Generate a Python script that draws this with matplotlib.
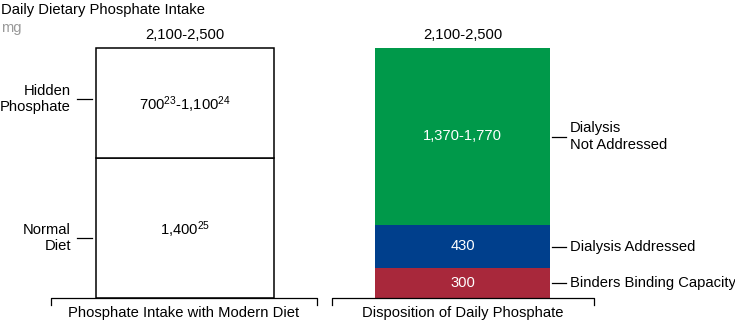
import matplotlib.pyplot as plt

plt.rcParams['font.family'] = ['Liberation Sans', 'DejaVu Sans']
plt.rcParams['mathtext.fontset'] = 'custom'
plt.rcParams['mathtext.rm'] = 'Liberation Sans'
plt.rcParams['mathtext.it'] = 'Liberation Sans'

# data (mg), upper bounds used for bar heights
intake_names = ['Normal\nDiet', 'Hidden\nPhosphate']
intake_vals = [1400, 1100]
intake_text = [r'1,400$^{25}$', r'700$^{23}$-1,100$^{24}$']

dispo_names = ['Binders Binding Capacity', 'Dialysis Addressed', 'Dialysis\nNot Addressed']
dispo_vals = [300, 430, 1770]
dispo_text = ['300', '430', '1,370-1,770']
dispo_colors = ['#a8283b', '#003f8c', '#00994a']

total_text = '2,100-2,500'
groups = ['Phosphate Intake with Modern Diet', 'Disposition of Daily Phosphate']

fig = plt.figure(figsize=(7.35, 3.25), dpi=100)
ax = fig.add_axes([0, 0, 1, 1])
ax.set_xlim(0, 735)
ax.set_ylim(-270, 2980)
ax.axis('off')

fs = 10.6

# left bar: white boxes with black edges
x1, w1 = 185, 178
tick_shift = [-100, 40]   # label ticks are not exactly centred in the original
bottom = 0
for v, t, name, dy in zip(intake_vals, intake_text, intake_names, tick_shift):
    ax.bar(x1, v, w1, bottom=bottom, color='white', edgecolor='black', linewidth=1.1)
    mid = bottom + v / 2
    ax.text(x1, mid - 20, t, ha='center', va='center', fontsize=fs)
    ax.plot([77, 92], [mid + dy, mid + dy], color='black', lw=0.9)
    ax.text(71, mid + dy, name, ha='right', va='center', fontsize=fs, linespacing=1.2)
    bottom += v
ax.text(x1, bottom + 130, total_text, ha='center', va='center', fontsize=fs)

# right bar: coloured stack
x2, w2 = 462.5, 175
bottom = 0
for v, t, c, name in zip(dispo_vals, dispo_text, dispo_colors, dispo_names):
    ax.bar(x2, v, w2, bottom=bottom, color=c, edgecolor='none')
    mid = bottom + v / 2
    ax.text(x2, mid, t, ha='center', va='center', fontsize=fs, color='white')
    ax.plot([552, 566], [mid, mid], color='black', lw=0.9)
    ax.text(570, mid, name, ha='left', va='center', fontsize=fs, linespacing=1.2)
    bottom += v
ax.text(x2, bottom + 130, total_text, ha='center', va='center', fontsize=fs)

# bottom brackets with group labels
for (a, b), g in zip([(51, 317), (332, 594)], groups):
    ax.plot([a, a, b, b], [-70, 0, 0, -70], color='black', lw=0.9)
    ax.text((a + b) / 2, -150, g, ha='center', va='center', fontsize=fs)

fig.text(0.002, 0.97, 'Daily Dietary Phosphate Intake', ha='left', va='center', fontsize=fs)
fig.text(0.002, 0.915, 'mg', ha='left', va='center', fontsize=fs, color='#999999')

fig.savefig('out.png', dpi=100)
